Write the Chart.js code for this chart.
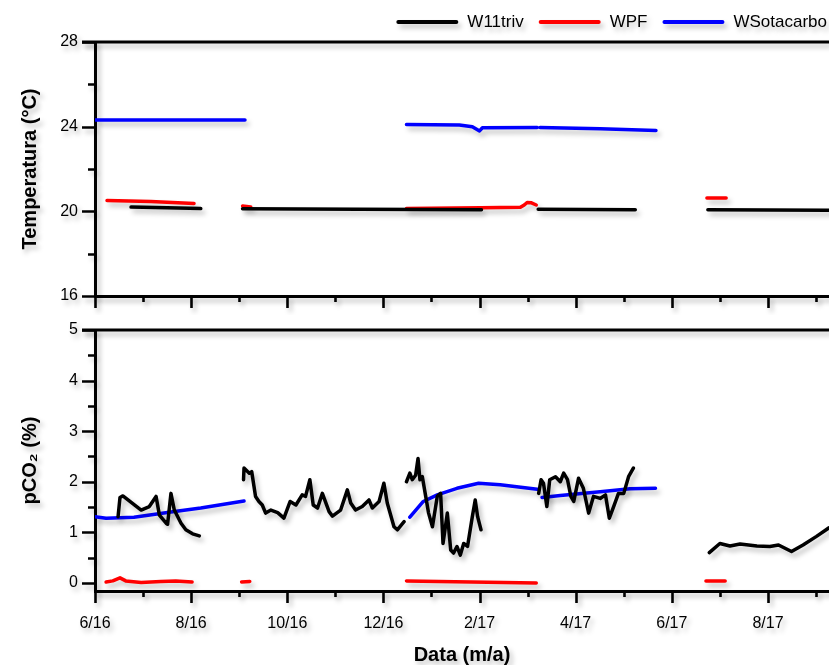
<!DOCTYPE html>
<html>
<head>
<meta charset="utf-8">
<script src="https://cdn.jsdelivr.net/npm/chart.js@4.4.1/dist/chart.umd.min.js"></script>
<style>
  html, body { margin: 0; padding: 0; background: #fff; }
  .panel { position: absolute; left: 0; width: 829px; }
  #topWrap { top: 0; height: 315px; }
  #botWrap { top: 315px; height: 350px; }
</style>
</head>
<body>
<div class="panel" id="topWrap"><canvas id="tempChart"></canvas></div>
<div class="panel" id="botWrap"><canvas id="co2Chart"></canvas></div>
<script>
'use strict';

/* Temperatura / pCO2 per pozzo, giu 2016 - set 2017. x = mesi da 6/16. */

const seriesNames = ['W11triv', 'WPF', 'WSotacarbo'];
const seriesColors = ['#000000', '#ff0000', '#0000ff'];
const monthLabels = ['6/16', '7/16', '8/16', '9/16', '10/16', '11/16', '12/16',
  '1/17', '2/17', '3/17', '4/17', '5/17', '6/17', '7/17', '8/17', '9/17'];
const xTickLabels = ['6/16', '8/16', '10/16', '12/16', '2/17', '4/17', '6/17', '8/17'];
const xMin = 0, xMax = 15.27;

// temperatura (°C); null = interruzione della serie
const tempW11 = [[0.75, 20.2], [1.5, 20.17], [2.2, 20.13], null,
  [3.07, 20.12], [5.5, 20.1], [8.04, 20.08], null,
  [9.22, 20.1], [11.24, 20.08], null,
  [12.75, 20.07], [15.27, 20.05]];
const tempWPF = [[0.25, 20.51], [1.16, 20.47], [2.06, 20.37], null,
  [3.07, 20.25], [3.24, 20.2], null,
  [6.48, 20.13], [8.02, 20.17], [8.85, 20.19], [8.93, 20.3], [8.99, 20.42], [9.08, 20.4], [9.18, 20.3], null,
  [12.73, 20.63], [13.13, 20.63]];
const tempWSot = [[0, 24.32], [3.12, 24.32], null,
  [6.48, 24.1], [7.58, 24.08], [7.85, 24.0], [8.0, 23.8], [8.06, 23.95], [9.2, 23.96], null,
  [9.26, 23.96], [10.51, 23.9], [11.67, 23.82]];

// pCO2 (%)
const co2W11 = [[0.48, 1.31], [0.52, 1.69], [0.58, 1.72], [0.96, 1.44], [1.13, 1.51], [1.27, 1.71],
  [1.34, 1.34], [1.48, 1.18], [1.51, 1.16], [1.58, 1.77], [1.65, 1.44], [1.79, 1.18], [1.89, 1.05],
  [2.03, 0.97], [2.17, 0.93], null,
  [3.09, 2.04], [3.1, 2.27], [3.21, 2.17], [3.26, 2.2], [3.34, 1.71], [3.41, 1.61], [3.48, 1.54],
  [3.55, 1.38], [3.66, 1.44], [3.8, 1.39], [3.93, 1.28], [4.06, 1.61], [4.18, 1.54], [4.31, 1.74],
  [4.38, 1.71], [4.47, 2.04], [4.54, 1.54], [4.63, 1.48], [4.73, 1.77], [4.87, 1.41], [4.94, 1.32],
  [5.11, 1.44], [5.25, 1.84], [5.32, 1.58], [5.42, 1.44], [5.56, 1.51], [5.7, 1.64], [5.77, 1.48],
  [5.91, 1.61], [6.01, 1.97], [6.08, 1.58], [6.22, 1.11], [6.29, 1.05], [6.43, 1.21], null,
  [6.48, 2.0], [6.55, 2.17], [6.6, 2.04], [6.67, 2.13], [6.72, 2.46], [6.76, 2.04], [6.81, 2.1],
  [6.88, 1.71], [6.94, 1.38], [7.02, 1.11], [7.12, 1.71], [7.19, 1.77], [7.24, 0.78], [7.33, 1.38],
  [7.4, 0.65], [7.46, 0.59], [7.53, 0.72], [7.6, 0.55], [7.67, 0.78], [7.75, 0.72], [7.85, 1.31],
  [7.91, 1.64], [7.96, 1.31], [8.03, 1.05], null,
  [9.23, 1.77], [9.28, 2.04], [9.33, 1.97], [9.4, 1.51], [9.46, 2.04], [9.58, 2.1], [9.68, 2.0],
  [9.75, 2.17], [9.83, 2.04], [9.9, 1.71], [9.96, 1.61], [10.06, 2.07], [10.16, 1.87], [10.27, 1.38],
  [10.37, 1.71], [10.51, 1.67], [10.62, 1.74], [10.7, 1.28], [10.79, 1.51], [10.89, 1.77], [11.0, 1.77],
  [11.1, 2.1], [11.2, 2.27], null,
  [12.78, 0.6], [13.0, 0.78], [13.21, 0.73], [13.42, 0.77], [13.77, 0.73], [14.04, 0.72], [14.22, 0.75],
  [14.49, 0.62], [14.73, 0.75], [15.01, 0.92], [15.27, 1.09]];
const co2WPF = [[0.23, 0.02], [0.37, 0.04], [0.52, 0.1], [0.64, 0.04], [0.96, 0.01], [1.37, 0.03],
  [1.68, 0.04], [2.02, 0.02], null,
  [3.05, 0.02], [3.22, 0.03], null,
  [6.48, 0.04], [9.18, 0.0], null,
  [12.71, 0.04], [13.11, 0.04]];
const co2WSot = [[0, 1.31], [0.23, 1.28], [0.81, 1.3], [1.58, 1.4], [2.2, 1.48], [3.1, 1.62], null,
  [6.55, 1.3], [6.83, 1.61], [7.12, 1.74], [7.53, 1.87], [7.98, 1.97], [8.43, 1.94], [9.2, 1.85], null,
  [9.3, 1.69], [9.68, 1.73], [10.51, 1.8], [11.13, 1.86], [11.66, 1.87]];

Chart.defaults.font.family = '"Liberation Sans", Arial, sans-serif';
Chart.defaults.color = '#000';

const toPoints = (arr) => arr.map((p, i) => p ? { x: p[0], y: p[1] } : { x: arr[i - 1][0], y: null });

function datasets(list) {
  return list.map((arr, i) => ({
    label: seriesNames[i], data: toPoints(arr),
    borderColor: seriesColors[i], backgroundColor: seriesColors[i],
    borderWidth: 3.5, pointRadius: 0, tension: 0, spanGaps: false,
    borderCapStyle: 'round', borderJoinStyle: 'round',
  }));
}

// ---------------------------------------------------------------- decor plugin
// ombre, tacche maggiori/minori, bordo superiore, legenda a linee
const decor = {
  id: 'decor',
  beforeDraw(chart) {
    const ctx = chart.ctx;
    ctx.shadowColor = 'rgba(0,0,0,0.25)';
    ctx.shadowBlur = 5; ctx.shadowOffsetX = 3; ctx.shadowOffsetY = 4;
  },
  afterDraw(chart, args, o) {
    const { ctx, chartArea: a, scales: { x, y } } = chart;
    ctx.save();
    ctx.strokeStyle = '#000'; ctx.lineWidth = 2.6; ctx.lineCap = 'butt';
    ctx.beginPath();
    for (let v = o.yFirst; v <= y.max + 1e-9; v += o.yMinor) {
      const major = Math.abs(v / o.yMajor - Math.round(v / o.yMajor)) < 1e-6;
      const py = Math.round(y.getPixelForValue(v)) + 0.5;
      ctx.moveTo(a.left, py); ctx.lineTo(a.left - (major ? 13 : 7), py);
    }
    for (let m = 0; m < monthLabels.length; m++) {
      const px = Math.round(x.getPixelForValue(m)) + 0.5;
      ctx.moveTo(px, a.bottom); ctx.lineTo(px, a.bottom + (m % 2 === 0 ? 12 : 6));
    }
    ctx.stroke();
    ctx.lineWidth = 3;
    ctx.beginPath(); ctx.moveTo(a.left - 13, a.top); ctx.lineTo(a.right, a.top); ctx.stroke();

    if (o.legend) {
      ctx.font = '17px "Liberation Sans", Arial, sans-serif';
      ctx.textBaseline = 'middle'; ctx.textAlign = 'left';
      let xr = chart.width - 2;
      const ly = 22;
      for (let i = chart.data.datasets.length - 1; i >= 0; i--) {
        const ds = chart.data.datasets[i];
        const tw = ctx.measureText(ds.label).width;
        const tx = xr - tw;
        ctx.fillStyle = '#000';
        ctx.fillText(ds.label, tx, ly);
        const le = tx - 11, ls = le - 58;
        ctx.strokeStyle = ds.borderColor; ctx.lineWidth = 4; ctx.lineCap = 'round';
        ctx.beginPath(); ctx.moveTo(ls, ly); ctx.lineTo(le, ly); ctx.stroke();
        xr = ls - 17;
      }
    }
    ctx.restore();
    ctx.shadowColor = 'rgba(0,0,0,0)';
    ctx.shadowBlur = 0; ctx.shadowOffsetX = 0; ctx.shadowOffsetY = 0;
  },
};

function xScale(showLabels, height) {
  return {
    type: 'linear', min: xMin, max: xMax,
    grid: { display: false, drawTicks: true, tickLength: 23 },
    border: { display: true, width: 3, color: '#000' },
    ticks: {
      display: showLabels, stepSize: 1, includeBounds: false, autoSkip: false, maxRotation: 0, padding: 0,
      font: { size: 16 }, color: '#000',
      callback: (v) => {
        const i = Math.round(v);
        if (Math.abs(v - i) > 1e-6 || i % 2 !== 0) return '';
        return xTickLabels[i / 2] || '';
      },
    },
    title: showLabels ? {
      display: true, text: 'Data (m/a)', color: '#000',
      font: { size: 20, weight: 'bold', lineHeight: 1.0 }, padding: { top: 0, bottom: 0 },
    } : { display: false },
    afterFit: (s) => { s.height = height; },
  };
}

function yScale(min, max, step, title) {
  return {
    min, max,
    grid: { display: false, drawTicks: true, tickLength: 17 },
    border: { display: true, width: 3, color: '#000' },
    ticks: {
      stepSize: step, includeBounds: false, padding: 0, font: { size: 16 }, color: '#000',
      callback: (v) => (Math.abs(v / step - Math.round(v / step)) < 1e-6 && v >= 0 ? String(Math.round(v)) : ''),
    },
    title: {
      display: true, text: title, color: '#000',
      font: { size: 20, weight: 'bold', lineHeight: 1.2 }, padding: { top: 18, bottom: 0 },
    },
    afterFit: (s) => { s.width = 95; },
  };
}

function baseOpts(padTop) {
  return {
    responsive: true, maintainAspectRatio: false, animation: false,
    layout: { padding: { top: padTop, left: 0, right: 0, bottom: 0 } },
    plugins: { legend: { display: false }, tooltip: { enabled: false } },
  };
}

// ---------------------------------------------------------------- temperatura
new Chart(document.getElementById('tempChart'), {
  type: 'line',
  data: { datasets: datasets([tempW11, tempWPF, tempWSot]) },
  options: {
    ...baseOpts(42),
    plugins: { ...baseOpts(42).plugins, decor: { yFirst: 16, yMinor: 2, yMajor: 4, legend: true } },
    scales: { x: xScale(false, 19), y: yScale(16, 28, 4, 'Temperatura (°C)') },
  },
  plugins: [decor],
});

// ---------------------------------------------------------------- pCO2
new Chart(document.getElementById('co2Chart'), {
  type: 'line',
  data: { datasets: datasets([co2W11, co2WPF, co2WSot]) },
  options: {
    ...baseOpts(15),
    plugins: { ...baseOpts(15).plugins, decor: { yFirst: 0, yMinor: 0.5, yMajor: 1, legend: false } },
    scales: { x: xScale(true, 74), y: yScale(-0.16, 5, 1, 'pCO\u2082 (%)') },
  },
  plugins: [decor],
});
</script>
</body>
</html>
